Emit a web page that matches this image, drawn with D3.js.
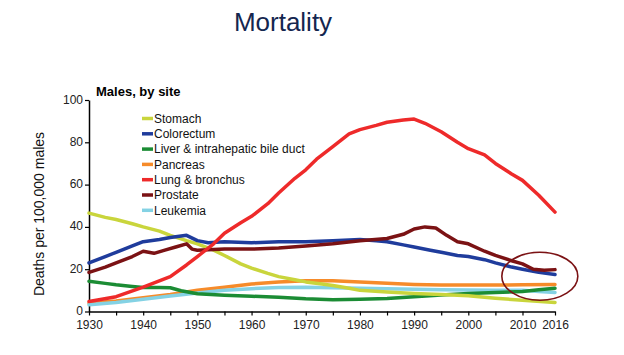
<!DOCTYPE html>
<html><head><meta charset="utf-8">
<script src="https://cdn.jsdelivr.net/npm/d3@7"></script>
<style>
body{margin:0;background:#fff;}
svg{display:block;font-family:"Liberation Sans",Arial,sans-serif;}
</style></head>
<body>
<svg id="c" width="624" height="355"></svg>
<script>
const seriesNames = ["Stomach","Colorectum","Liver & intrahepatic bile duct","Pancreas","Lung & bronchus","Prostate","Leukemia"];
const seriesColors = ["#c9d53c","#1f3c9c","#1b8c34","#f68b2a","#ee2a2a","#7b1214","#84d2e4"];

const stomachYears = [1930,1933,1935,1938,1940,1943,1945,1948,1950,1953,1955,1958,1960,1963,1965,1968,1970,1973,1975,1978,1980,1985,1990,1995,2000,2005,2010,2016];
const stomachVals  = [46.5,44.5,43.5,41.5,40,38,36,33.5,32,29,26.5,22.5,20.5,18,16.5,15,14,13,12.3,11,10,9.2,8.5,8,7.5,6.3,5.3,4.3];

const colorectumYears = [1930,1933,1935,1938,1940,1943,1945,1948,1950,1952,1955,1960,1965,1970,1975,1980,1983,1985,1988,1990,1993,1995,1998,2000,2003,2005,2008,2010,2013,2016];
const colorectumVals  = [23,26,28,31,33,34,35,36,33.5,32.5,33,32.5,33,33,33.5,34,33.5,33,31.5,30.5,29,28,26.5,26,24.5,23,21,20,18.5,17.5];

const liverYears = [1930,1933,1935,1938,1940,1943,1945,1947,1950,1955,1960,1965,1970,1975,1980,1985,1990,1995,2000,2005,2010,2013,2016];
const liverVals  = [14.3,13.3,12.6,11.8,11.3,11.3,11.2,9.8,8.4,7.7,7.2,6.7,6,5.6,5.8,6.2,7,7.8,8.5,9,9.5,10.3,11];

const pancreasYears = [1930,1935,1940,1945,1950,1955,1960,1965,1970,1975,1980,1985,1990,1995,2000,2005,2010,2016];
const pancreasVals  = [4,5,6.5,8,10,11.5,13,14,14.5,14.5,14,13.3,12.8,12.5,12.5,12.5,12.6,12.8];

const lungYears = [1930,1935,1940,1945,1948,1950,1953,1955,1958,1960,1963,1965,1968,1970,1972,1975,1978,1980,1983,1985,1988,1990,1992,1995,1998,2000,2003,2005,2008,2010,2013,2016];
const lungVals  = [4.7,7,11.5,16.5,22,26,32,37,42,45,51,56,63,67,72,78,84,86,88,89.5,90.5,91,89,85,80,77,74,70,65,62,55,47];

const prostateYears = [1930,1933,1935,1938,1940,1942,1944,1946,1948,1949,1950,1955,1960,1965,1970,1975,1980,1985,1988,1990,1992,1994,1996,1998,2000,2003,2005,2008,2010,2012,2014,2016];
const prostateVals  = [18.5,21,23,26,28.5,27.5,29,30.5,32,29.5,29,29.5,29.5,30,31,32,33.5,34.5,36.5,39,40,39.5,36,33,32,28.5,26.5,24,22.5,20,19.5,19.8];

const leukemiaYears = [1930,1935,1940,1945,1950,1955,1960,1965,1970,1975,1980,1985,1990,1995,2000,2005,2010,2013,2016];
const leukemiaVals  = [3.2,4.3,5.8,7.3,8.8,10,10.8,11.4,11.5,11.2,11,10.8,10.5,10.3,10.2,10,10,9.5,9];

const xTickLabels = [1930,1940,1950,1960,1970,1980,1990,2000,2010,2016];
const xMinorTicks = [1935,1945,1955,1965,1975,1985,1995,2005];
const yTickLabels = [0,20,40,60,80,100];
const highlight = {year:2013.2, value:16.7};

const seriesData = [
  [stomachYears, stomachVals],
  [colorectumYears, colorectumVals],
  [liverYears, liverVals],
  [pancreasYears, pancreasVals],
  [lungYears, lungVals],
  [prostateYears, prostateVals],
  [leukemiaYears, leukemiaVals]
].map(([ys,vs]) => ys.map((y,i)=>({year:y, v:vs[i]})));

const svg = d3.select("#c");
const x = d3.scaleLinear().domain([1930,2016]).range([89,555]);
const y = d3.scaleLinear().domain([0,100]).range([311.5,100]);

// title
svg.append("text").attr("x",283).attr("y",31).attr("text-anchor","middle")
  .attr("font-size",26).attr("fill","#14264f").text("Mortality");
svg.append("text").attr("x",96).attr("y",96).attr("font-size",13).attr("font-weight","bold")
  .attr("fill","#000").text("Males, by site");

// axes
const yG = svg.append("g").attr("transform","translate(89,0)")
  .call(d3.axisLeft(y).tickValues(yTickLabels).tickSize(4).tickPadding(2).tickSizeOuter(0));
yG.selectAll(".tick text").attr("dy","0.25em");
svg.append("g").attr("transform","translate(0,311.5)")
  .call(d3.axisBottom(x).tickValues(xTickLabels).tickFormat(d3.format("d")).tickSize(4).tickPadding(5).tickSizeOuter(0));
svg.append("g").attr("transform","translate(0,311.5)")
  .call(d3.axisBottom(x).tickValues(xMinorTicks).tickFormat("").tickSize(4).tickSizeOuter(0))
  .select(".domain").remove();
svg.selectAll(".domain").attr("stroke","#000").attr("stroke-width",1.5);
svg.selectAll(".tick line").attr("stroke","#000").attr("stroke-width",1.2);
svg.selectAll(".tick text").attr("font-size",12).attr("fill","#222").attr("font-family","'Liberation Sans',Arial,sans-serif");

svg.append("text").attr("transform","translate(44,214) rotate(-90)")
  .attr("text-anchor","middle").attr("font-size",14).attr("fill","#111")
  .text("Deaths per 100,000 males");

// lines
const line = d3.line().x(d=>x(d.year)).y(d=>y(d.v));
const order = [3,6,2,0,1,5,4];
order.forEach(i=>{
  svg.append("path").datum(seriesData[i]).attr("d",line)
    .attr("fill","none").attr("stroke",seriesColors[i]).attr("stroke-width",3.5)
    .attr("stroke-linejoin","round").attr("stroke-linecap","round");
});

// legend
const leg = svg.append("g");
seriesNames.forEach((n,i)=>{
  const yy = 118.5 + i*15.3;
  leg.append("line").attr("x1",142).attr("x2",153).attr("y1",yy).attr("y2",yy)
    .attr("stroke",seriesColors[i]).attr("stroke-width",3.5);
  leg.append("text").attr("x",154).attr("y",yy+4.3).attr("font-size",12).attr("fill","#111").text(n);
});

// highlight ellipse
svg.append("ellipse").attr("cx",x(highlight.year)).attr("cy",y(highlight.value))
  .attr("rx",38).attr("ry",24).attr("fill","none").attr("stroke","#7b1214").attr("stroke-width",1.6);
</script>
</body></html>
